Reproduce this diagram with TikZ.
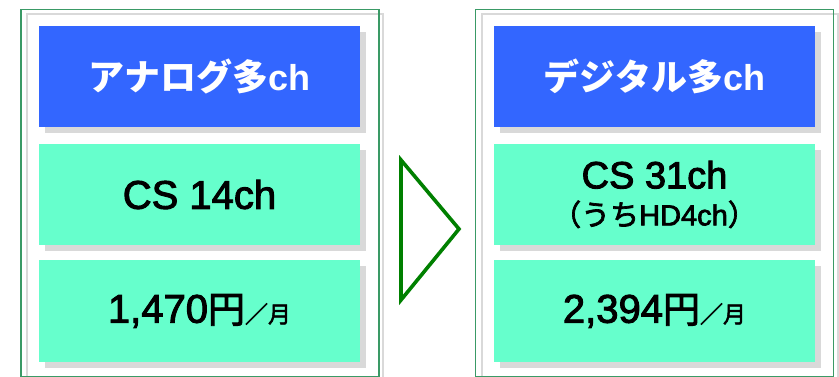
\documentclass[tikz,border=0pt]{standalone}
\usepackage{fontspec}
\setmainfont{Liberation Sans}
\newfontfamily\jp{Noto Sans CJK JP}
\newfontfamily\jpmed{Noto Sans CJK JP}[BoldFont={Noto Sans CJK JP}, BoldFeatures={FakeBold=2.4}]
\newfontfamily\lat{Liberation Sans}
\newfontfamily\latmed{Liberation Sans}[BoldFont={Liberation Sans}, BoldFeatures={FakeBold=2.4}]
\usetikzlibrary{shadows}
\definecolor{hdrblue}{HTML}{3366FF}
\definecolor{mint}{HTML}{66FFCC}
\definecolor{framegreen}{HTML}{3A9A66}
\definecolor{arrowgreen}{HTML}{008000}
\definecolor{shadowgray}{HTML}{D9D9D9}
\tikzset{
  panelframe/.style={draw=framegreen, line width=1.6pt, minimum width=358pt, minimum height=367pt, inner sep=0pt},
  panelshade/.style={draw=shadowgray, line width=1.8pt, minimum width=356pt, minimum height=367pt, inner sep=0pt},
  box/.style={minimum width=321pt, minimum height=101pt, inner sep=0pt, align=center,
     drop shadow={shadow xshift=6pt, shadow yshift=-6pt, fill=shadowgray, opacity=1}},
  hdrbox/.style={box, fill=hdrblue, text=white, font=\lat\bfseries\fontsize{36}{40}\selectfont},
  infobox/.style={box, fill=mint, text=black, font=\latmed\bfseries\fontsize{40}{44}\selectfont},
}
\newcommand{\jj}[1]{{\jp #1}}
\newcommand{\jm}[1]{{\jpmed\bfseries #1}}
\begin{document}
\begin{tikzpicture}[x=1pt, y=-1pt]
\useasboundingbox (0,0) rectangle (839,377);
% panel frames
\node[panelshade] (lshade) at (205,197.5) {};
\node[panelframe] (lframe) at (200,193) {};
\node[panelshade] (rshade) at (660,197.5) {};
\node[panelframe] (rframe) at (654.5,193) {};
% left panel
\node[hdrbox] (lhead) at (199.5,76.5) {\jj{アナログ多}ch};
\node[infobox] (lch) at (199.5,194.5) {CS 14ch};
\node[infobox] (lprice) at (199.5,311) {1,470{\fontsize{37}{40}\selectfont\jm{円}}{\fontsize{23}{26}\selectfont\jm{／月}}};
% right panel
\node[hdrbox] (rhead) at (654.5,76.5) {\jj{デジタル多}ch};
\node[infobox] (rch) at (654.5,194.5) {\fontsize{38}{40}\selectfont CS 31ch\\[-7pt]{\fontsize{29}{30}\selectfont \jm{（うち}HD4ch\jm{）}}};
\node[infobox] (rprice) at (654.5,311) {2,394{\fontsize{37}{40}\selectfont\jm{円}}{\fontsize{23}{26}\selectfont\jm{／月}}};
% arrow
\coordinate (atop) at (401,160);
\coordinate (atip) at (459,229);
\coordinate (abot) at (401,300);
\draw[arrowgreen, line width=3.6pt, line join=miter] (atop) -- (atip) -- (abot) -- cycle;
\end{tikzpicture}
\end{document}
